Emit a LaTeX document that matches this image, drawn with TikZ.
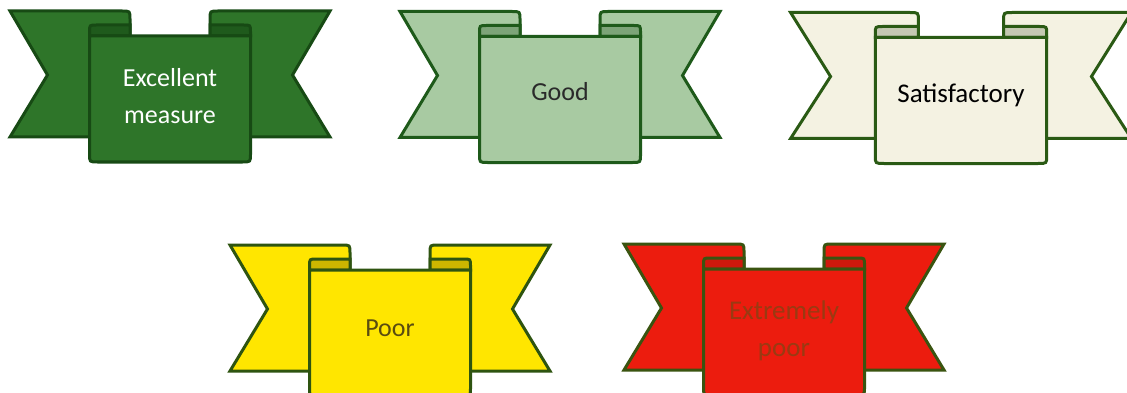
\documentclass[tikz,border=0pt]{standalone}
\usepackage{fontspec}
\setmainfont{Carlito}
\definecolor{gAfill}{HTML}{2E7529}
\definecolor{gAroll}{HTML}{1F5A1C}
\definecolor{gAline}{HTML}{174A14}
\definecolor{gBfill}{HTML}{A8CAA2}
\definecolor{gBroll}{HTML}{7DA478}
\definecolor{gBline}{HTML}{1E5A1A}
\definecolor{gCfill}{HTML}{F4F2E2}
\definecolor{gCroll}{HTML}{C4C8B2}
\definecolor{gCline}{HTML}{2A5A14}
\definecolor{gDfill}{HTML}{FFE600}
\definecolor{gDroll}{HTML}{CCB600}
\definecolor{gDline}{HTML}{2E5410}
\definecolor{gEfill}{HTML}{EC1C0E}
\definecolor{gEroll}{HTML}{CE180C}
\definecolor{gEline}{HTML}{3A5410}
\definecolor{gEtext}{HTML}{9A3A12}
\definecolor{gDtext}{HTML}{5A4C10}
\definecolor{gBtext}{HTML}{2A2A2A}
\tikzset{
  ribbonline/.style={line width=3pt, line join=miter},
  labeltext/.style={align=center, inner sep=0pt}
}
% #1 cx, #2 dy, #3 xscale, #4 fill, #5 roll, #6 line, #7 name, #8 text, #9 text options
\newcommand\ribbondraw[9]{%
\begin{scope}[shift={(#1,#2)}, xscale=#3]
  % left tail
  \filldraw[ribbonline, fill=#4, draw=#6]
    (-160,11) -- (-48,11) .. controls (-40,11) .. (-40,19) -- (-40,137) -- (-160,137) -- (-122.5,75) -- cycle;
  % right tail
  \filldraw[ribbonline, fill=#4, draw=#6]
    (160,11) -- (48,11) .. controls (40,11) .. (40,19) -- (40,137) -- (160,137) -- (122.5,75) -- cycle;
  % left roll
  \filldraw[ribbonline, fill=#5, draw=#6]
    (-80.5,36) -- (-80.5,32) .. controls (-80.5,25) .. (-73.5,25) -- (-40,25) -- (-40,36) -- cycle;
  % right roll
  \filldraw[ribbonline, fill=#5, draw=#6]
    (80.5,36) -- (80.5,32) .. controls (80.5,25) .. (73.5,25) -- (40,25) -- (40,36) -- cycle;
  % front panel
  \filldraw[ribbonline, fill=#4, draw=#6]
    (-80.5,36) -- (-80.5,154) .. controls (-80.5,162) .. (-72.5,162) -- (72.5,162)
    .. controls (80.5,162) .. (80.5,154) -- (80.5,36) -- cycle;
  \node[labeltext, #9] (#7) at (0,94) {#8};
\end{scope}}
\begin{document}
\begin{tikzpicture}[x=1pt,y=-1pt]
\useasboundingbox (0,0) rectangle (1127,393);
\clip (0,0) rectangle (1127,393);
\fill[white] (0,0) rectangle (1127,393);
\ribbondraw{170}{0}{1}{gAfill}{gAroll}{gAline}{excellent}{Excellent\\measure}{text=white, font=\fontsize{26}{37}\selectfont, yshift=-2pt}
\ribbondraw{560}{0.5}{1}{gBfill}{gBroll}{gBline}{good}{Good}{text=gBtext, font=\fontsize{26}{30}\selectfont, yshift=3pt}
\ribbondraw{961}{1.5}{1.065}{gCfill}{gCroll}{gCline}{satisfactory}{Satisfactory}{text=black, font=\fontsize{27}{30}\selectfont}
\ribbondraw{390}{234}{1}{gDfill}{gDroll}{gDline}{poor}{Poor}{text=gDtext, font=\fontsize{26}{30}\selectfont}
\ribbondraw{784}{233}{1}{gEfill}{gEroll}{gEline}{extremelypoor}{Extremely\\poor}{text=gEtext, font=\fontsize{27}{37}\selectfont, yshift=-4pt}
\end{tikzpicture}
\end{document}
